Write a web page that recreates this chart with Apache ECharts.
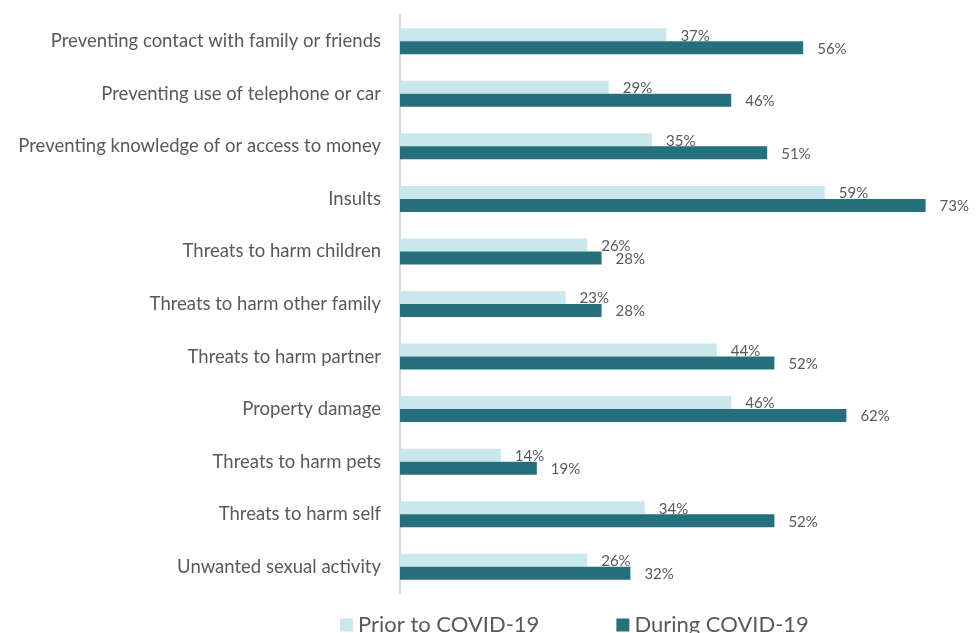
<!DOCTYPE html>
<html><head><meta charset="utf-8">
<script src="https://cdn.jsdelivr.net/npm/echarts@6/dist/echarts.min.js"></script>
<style>html,body{margin:0;padding:0;background:#fff}#c{width:976px;height:633px}</style>
</head><body><div id="c"></div>
<script>
var categories = ["Preventing contact with family or friends","Preventing use of telephone or car","Preventing knowledge of or access to money","Insults","Threats to harm children","Threats to harm other family","Threats to harm partner","Property damage","Threats to harm pets","Threats to harm self","Unwanted sexual activity"];
var prior = [37,29,35,59,26,23,44,46,14,34,26];
var during = [56,46,51,73,28,28,52,62,19,52,32];
var seriesNames = ["Prior to COVID-19","During COVID-19"];
var font = "Lato";
var chart = echarts.init(document.getElementById('c'));
chart.setOption({
  animation:false,
  textStyle:{fontFamily:font},
  grid:{left:400, top:15, width:584, height:578, containLabel:false},
  xAxis:{type:'value', min:0, max:80, show:false},
  yAxis:{type:'category', data:categories, inverse:true,
    axisLine:{lineStyle:{color:'#d9d9d9', width:2}}, axisTick:{show:false},
    axisLabel:{color:'#595959', fontSize:18.5, margin:19, fontFamily:font}},
  legend:{left:340, top:614, padding:0, itemWidth:13, itemHeight:13, itemGap:77, icon:'rect',
    textStyle:{color:'#595959', fontSize:22, fontFamily:font}, data:seriesNames},
  series:[
    {name:seriesNames[0], type:'bar', data:prior, barWidth:13, barGap:'0%', barCategoryGap:'50%',
     itemStyle:{color:'#C9E7EC'},
     label:{show:true, position:'right', distance:14, offset:[0,1], formatter:'{c}%', color:'#595959', fontSize:15, fontFamily:font}},
    {name:seriesNames[1], type:'bar', data:during, barWidth:13,
     itemStyle:{color:'#266F7C'},
     label:{show:true, position:'right', distance:14, offset:[0,1], formatter:'{c}%', color:'#595959', fontSize:15, fontFamily:font}}
  ]
});
</script></body></html>
